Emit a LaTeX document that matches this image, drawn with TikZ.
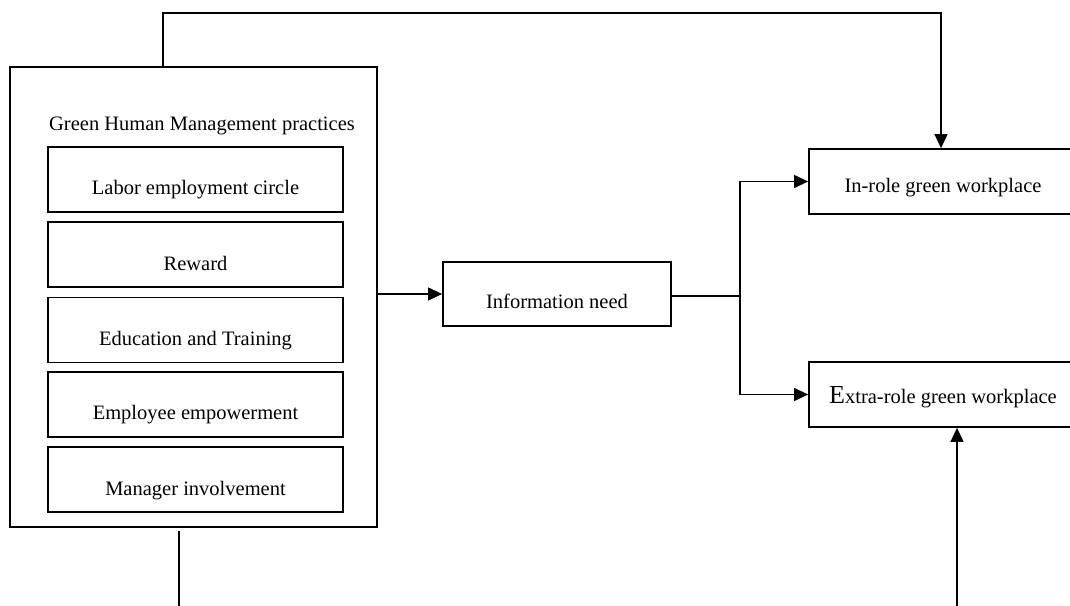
\documentclass[tikz,border=0pt]{standalone}
\usepackage{fontspec}
\setmainfont{Liberation Serif}
\usetikzlibrary{arrows.meta}
\tikzset{
  txtfont/.style={font=\fontsize{20.5}{24}\selectfont},
  outerbox/.style={draw, line width=1.8pt, minimum width=367pt, minimum height=460pt, inner sep=0pt},
  innerbox/.style={draw, line width=1.8pt, minimum width=295pt, minimum height=65pt, inner sep=0pt, txtfont, text height=14pt, text depth=5pt},
  mainbox/.style={draw, line width=1.8pt, minimum height=65pt, inner sep=0pt, txtfont, text height=14pt, text depth=5pt},
  conn/.style={line width=1.2pt},
  arrowc/.style={line width=1.2pt, -{Triangle[length=14pt,width=13pt]}},
}
\begin{document}
\begin{tikzpicture}[x=1pt,y=-1pt]
\useasboundingbox (0,0) rectangle (1070,605);
\clip (0,0) rectangle (1070,605);
% outer box
\node[outerbox] (ghm) at (193.5,297) {};
\node[txtfont, inner sep=0pt] (title) at (202,126) {Green Human Management practices};
\node[innerbox] (p1) at (195.5,179.5) {\raisebox{-10pt}{Labor employment circle}};
\node[innerbox] (p2) at (195.5,254.5) {\raisebox{-11pt}{Reward}};
\node[innerbox] (p3) at (195.5,330) {\raisebox{-11pt}{Education and Training}};
\node[innerbox] (p4) at (195.5,404.5) {\raisebox{-10pt}{Employee empowerment}};
\node[innerbox] (p5) at (195.5,479.5) {\raisebox{-11pt}{Manager involvement}};
% middle
\node[mainbox, minimum width=228pt, minimum height=64pt] (info) at (557,294) {\raisebox{-10pt}{Information need}};
% right
\node[mainbox, minimum width=268pt] (inrole) at (943,181.5) {\raisebox{-6pt}{In-role green workplace}};
\node[mainbox, minimum width=268pt] (extra) at (943,394.5) {\raisebox{-4pt}{{\fontsize{26}{28}\selectfont E}xtra-role green workplace}};
% connectors
\coordinate (t1) at (163,13);
\coordinate (t2) at (941,13);
\draw[arrowc] (ghm.north -| t1) -- (t1) -- (t2) -- (inrole.north -| t2);
\draw[arrowc] (ghm.east |- info) -- (info.west);
\coordinate (sp) at (740,296);
\draw[conn] (info.east |- sp) -- (sp);
\draw[arrowc] (sp) |- (inrole.west);
\draw[arrowc] (sp) |- (extra.west);
\coordinate (bl) at (179,610);
\draw[conn] (ghm.south -| bl) ++(0,3) -- (bl);
\coordinate (br) at (957,610);
\draw[arrowc] (br) -- (extra.south -| br);
\end{tikzpicture}
\end{document}
